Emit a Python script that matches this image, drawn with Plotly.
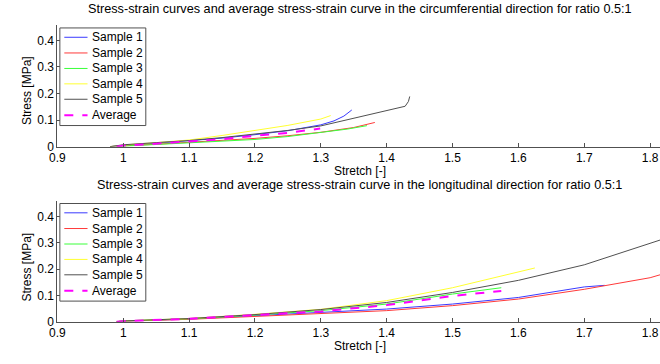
import plotly.graph_objects as go

# ---------------- data: circumferential direction (top) ----------------
circ_s1_x = [0.98, 1.0, 1.05, 1.1, 1.15, 1.2, 1.25, 1.3, 1.32, 1.335, 1.347]
circ_s1_y = [0.0, 0.005, 0.013, 0.022, 0.032, 0.045, 0.060, 0.082, 0.097, 0.115, 0.138]
circ_s2_x = [0.99, 1.0, 1.05, 1.1, 1.15, 1.2, 1.25, 1.3, 1.35, 1.382]
circ_s2_y = [0.0, 0.003, 0.009, 0.016, 0.023, 0.031, 0.041, 0.054, 0.072, 0.091]
circ_s3_x = [0.99, 1.0, 1.05, 1.1, 1.15, 1.2, 1.25, 1.3, 1.34, 1.37]
circ_s3_y = [0.0, 0.002, 0.008, 0.014, 0.020, 0.027, 0.038, 0.052, 0.066, 0.079]
circ_s4_x = [0.98, 1.0, 1.05, 1.1, 1.15, 1.2, 1.25, 1.3, 1.315]
circ_s4_y = [0.0, 0.006, 0.015, 0.025, 0.042, 0.062, 0.080, 0.104, 0.117]
circ_s5_x = [0.98, 1.0, 1.05, 1.1, 1.15, 1.2, 1.25, 1.3, 1.343, 1.393, 1.415, 1.428, 1.433, 1.435]
circ_s5_y = [0.0, 0.007, 0.015, 0.023, 0.034, 0.047, 0.061, 0.078, 0.103, 0.130, 0.142, 0.152, 0.170, 0.189]
circ_avg_x = [0.99, 1.0, 1.05, 1.1, 1.15, 1.2, 1.25, 1.299]
circ_avg_y = [0.0, 0.004, 0.011, 0.019, 0.028, 0.041, 0.052, 0.068]

# ---------------- data: longitudinal direction (bottom) ----------------
long_s1_x = [0.99, 1.0, 1.1, 1.2, 1.3, 1.4, 1.5, 1.6, 1.7, 1.731]
long_s1_y = [0.0, 0.002, 0.010, 0.022, 0.035, 0.048, 0.067, 0.092, 0.132, 0.138]
long_s2_x = [0.99, 1.0, 1.1, 1.2, 1.3, 1.4, 1.5, 1.6, 1.7, 1.8, 1.815]
long_s2_y = [0.0, 0.002, 0.009, 0.020, 0.031, 0.042, 0.061, 0.086, 0.123, 0.167, 0.178]
long_s3_x = [0.99, 1.0, 1.1, 1.2, 1.3, 1.4, 1.5, 1.574]
long_s3_y = [0.0, 0.003, 0.011, 0.025, 0.042, 0.067, 0.105, 0.129]
long_s4_x = [0.99, 1.0, 1.1, 1.2, 1.3, 1.4, 1.5, 1.6, 1.625]
long_s4_y = [0.0, 0.003, 0.012, 0.028, 0.047, 0.080, 0.129, 0.188, 0.204]
long_s5_x = [0.99, 1.0, 1.1, 1.2, 1.3, 1.4, 1.5, 1.6, 1.7, 1.8, 1.815]
long_s5_y = [0.0, 0.003, 0.012, 0.027, 0.046, 0.073, 0.111, 0.157, 0.216, 0.297, 0.310]
long_avg_x = [0.99, 1.0, 1.1, 1.2, 1.3, 1.4, 1.5, 1.574]
long_avg_y = [0.0, 0.002, 0.011, 0.025, 0.039, 0.063, 0.098, 0.117]

names = ["Sample 1", "Sample 2", "Sample 3", "Sample 4", "Sample 5", "Average"]
colors = ["#3a3aff", "#ff3a3a", "#3aff3a", "#ffff30", "#505050", "#ff00ff"]

x_ticks = [0.9, 1.0, 1.1, 1.2, 1.3, 1.4, 1.5, 1.6, 1.7, 1.8]
x_tick_text = ["0.9", "1", "1.1", "1.2", "1.3", "1.4", "1.5", "1.6", "1.7", "1.8"]
y_ticks = [0, 0.1, 0.2, 0.3, 0.4]
y_tick_text = ["0", "0.1", "0.2", "0.3", "0.4"]

title_top = "Stress-strain curves and average stress-strain curve in the circumferential direction for ratio 0.5:1"
title_bot = "Stress-strain curves and average stress-strain curve in the longitudinal direction for ratio 0.5:1"
x_label = "Stretch [-]"
y_label = "Stress [MPa]"

W, H = 660, 364
FONT = "Liberation Sans, Arial, sans-serif"
AXC = "#505050"

fig = go.Figure()

top_series = [(circ_s1_x, circ_s1_y), (circ_s2_x, circ_s2_y), (circ_s3_x, circ_s3_y),
              (circ_s4_x, circ_s4_y), (circ_s5_x, circ_s5_y), (circ_avg_x, circ_avg_y)]
bot_series = [(long_s1_x, long_s1_y), (long_s2_x, long_s2_y), (long_s3_x, long_s3_y),
              (long_s4_x, long_s4_y), (long_s5_x, long_s5_y), (long_avg_x, long_avg_y)]


def line_style(i):
    avg = names[i] == "Average"
    return dict(color=colors[i], width=2 if avg else 1, dash="dash" if avg else "solid")


for i, (xs, ys) in enumerate(top_series):
    fig.add_trace(go.Scatter(x=xs, y=ys, mode="lines", name=names[i], xaxis="x", yaxis="y",
                             line=line_style(i), showlegend=False))
for i, (xs, ys) in enumerate(bot_series):
    fig.add_trace(go.Scatter(x=xs, y=ys, mode="lines", name=names[i], xaxis="x2", yaxis="y2",
                             line=line_style(i), showlegend=False))


def px_x(p):
    return p / W


def px_y(p):
    return 1 - p / H


axis_common = dict(
    showline=True, linecolor=AXC, linewidth=1, mirror=False,
    ticks="inside", ticklen=4, tickcolor=AXC, showgrid=False, zeroline=False,
    tickfont=dict(family=FONT, size=12, color="#000"),
)

x_left, x_right = 50, 660
fig.update_layout(
    width=W, height=H, margin=dict(l=0, r=0, t=0, b=0),
    paper_bgcolor="white", plot_bgcolor="white",
    font=dict(family=FONT, size=12, color="#000"),
    showlegend=False,
    xaxis=dict(domain=[px_x(x_left), px_x(x_right)], range=[0.9, 1.815], anchor="y",
               tickvals=x_ticks, ticktext=x_tick_text, **axis_common),
    yaxis=dict(domain=[px_y(149.5), px_y(25)], range=[0, 0.46], anchor="x",
               tickvals=y_ticks, ticktext=y_tick_text, **axis_common),
    xaxis2=dict(domain=[px_x(x_left), px_x(x_right)], range=[0.9, 1.815], anchor="y2",
                tickvals=x_ticks, ticktext=x_tick_text, **axis_common),
    yaxis2=dict(domain=[px_y(328), px_y(204.5)], range=[0, 0.46], anchor="x2",
                tickvals=y_ticks, ticktext=y_tick_text, **axis_common),
)

annotations = []
shapes = []


def text(t, x, y, size=12, angle=0, xanchor="center"):
    annotations.append(dict(text=t, x=px_x(x), y=px_y(y), xref="paper", yref="paper",
                            xanchor=xanchor, yanchor="middle", showarrow=False,
                            textangle=angle, font=dict(family=FONT, size=size, color="#000")))


# titles and axis labels
text(title_top, 356, 9, size=12.7)
text(title_bot, 356, 189, size=12.7)
text(x_label, 356, 174)
text(x_label, 356, 353)
text(y_label, 19, 92, angle=-90)
text(y_label, 19, 272, angle=-90)

# manual legends (MATLAB-like compact spacing)
entry_offsets = [9.5, 25.5, 41.3, 57, 72.7, 89]


def legend(top):
    shapes.append(dict(type="rect", xref="paper", yref="paper",
                       x0=px_x(52.5), x1=px_x(139.5), y0=px_y(top + 99.5), y1=px_y(top),
                       line=dict(color=AXC, width=1), fillcolor="white", layer="above"))
    for i, off in enumerate(entry_offsets):
        yy = top + off
        st = line_style(i)
        shapes.append(dict(type="line", xref="paper", yref="paper",
                           x0=px_x(57), x1=px_x(80.5), y0=px_y(yy), y1=px_y(yy),
                           line=dict(color=st["color"], width=st["width"], dash=st["dash"]),
                           layer="above"))
        text(names[i], 82.5, yy, xanchor="left")


legend(28.5)
legend(207.5)

fig.update_layout(annotations=annotations, shapes=shapes)

fig.write_html("out.html")
